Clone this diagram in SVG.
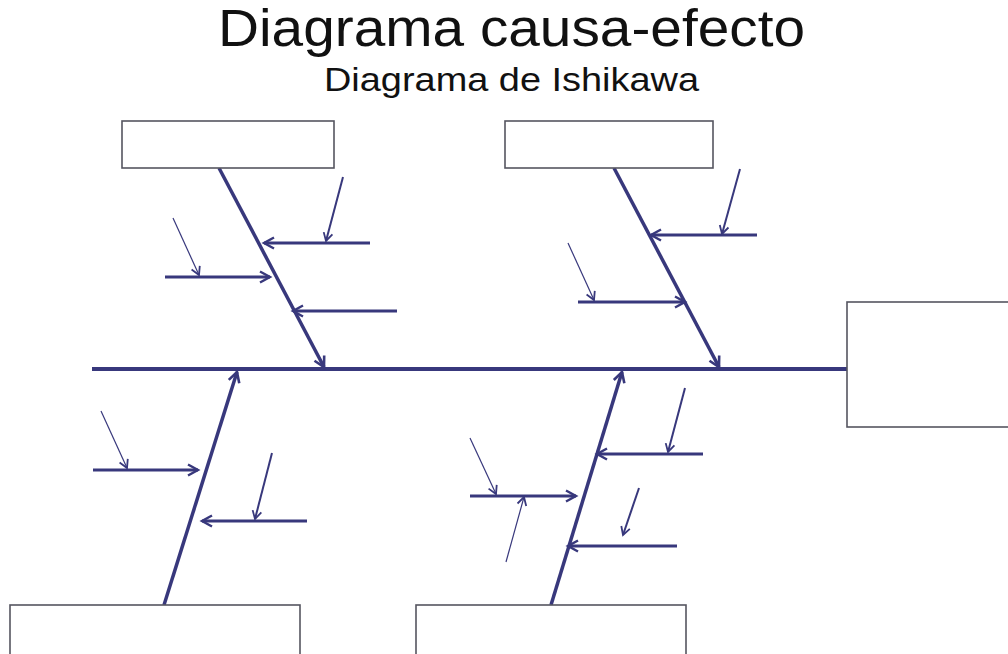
<svg xmlns="http://www.w3.org/2000/svg" width="1008" height="654" viewBox="0 0 1008 654">
<style>
.box{fill:#ffffff;stroke:#555560;stroke-width:1.6}
.ln{stroke:#38387c;fill:none;stroke-linecap:butt}
.spine{stroke-width:4}
.bone{stroke-width:3.5;marker-end:url(#ah)}
.sub{stroke-width:3;marker-end:url(#am)}
.med{stroke-width:2;marker-end:url(#as)}
.thin{stroke-width:1.2;marker-end:url(#as)}
.t{font-family:"Liberation Sans",Arial,sans-serif;fill:#111}
</style>
<defs>
<marker id="ah" viewBox="0 0 14 14" refX="12" refY="7" markerWidth="14" markerHeight="14" markerUnits="userSpaceOnUse" orient="auto" overflow="visible">
<path d="M2,1.5 L12,7 L2,12.5" fill="none" stroke="#38387c" stroke-width="2.6"/>
</marker>
<marker id="am" viewBox="0 0 14 14" refX="12" refY="7" markerWidth="14" markerHeight="14" markerUnits="userSpaceOnUse" orient="auto" overflow="visible">
<path d="M2,1.5 L12,7 L2,12.5" fill="none" stroke="#38387c" stroke-width="2.4"/>
</marker>
<marker id="as" viewBox="0 0 12 12" refX="10" refY="6" markerWidth="12" markerHeight="12" markerUnits="userSpaceOnUse" orient="auto" overflow="visible">
<path d="M2,1.5 L10,6 L2,10.5" fill="none" stroke="#38387c" stroke-width="1.8"/>
</marker>
</defs>
<rect width="1008" height="654" fill="#ffffff"/>
<g id="title">
<text class="t" x="218" y="46" font-size="51" textLength="587" lengthAdjust="spacingAndGlyphs">Diagrama causa-efecto</text>
<text class="t" x="324" y="91" font-size="34" textLength="375" lengthAdjust="spacingAndGlyphs">Diagrama de Ishikawa</text>
</g>
<g id="connectors">
<line class="ln spine" x1="92" y1="369" x2="847" y2="369"/>
<line class="ln bone" x1="219" y1="168" x2="324" y2="367"/>
<line class="ln bone" x1="614" y1="168" x2="719" y2="367"/>
<line class="ln bone" x1="164" y1="605" x2="237" y2="372"/>
<line class="ln bone" x1="551" y1="605" x2="622" y2="372"/>
<line class="ln sub" x1="370" y1="243" x2="264" y2="243"/>
<line class="ln sub" x1="165" y1="277" x2="270" y2="277"/>
<line class="ln sub" x1="397" y1="311" x2="293" y2="311"/>
<line class="ln sub" x1="757" y1="235" x2="651" y2="235"/>
<line class="ln sub" x1="578" y1="302" x2="685" y2="302"/>
<line class="ln sub" x1="93" y1="470" x2="198" y2="470"/>
<line class="ln sub" x1="307" y1="521" x2="202" y2="521"/>
<line class="ln sub" x1="703" y1="454" x2="597" y2="454"/>
<line class="ln sub" x1="470" y1="496" x2="576" y2="496"/>
<line class="ln sub" x1="677" y1="546" x2="568" y2="546"/>
<line class="ln med" x1="343" y1="177" x2="326" y2="241"/>
<line class="ln med" x1="740" y1="169" x2="722" y2="234"/>
<line class="ln med" x1="272" y1="453" x2="255" y2="519"/>
<line class="ln med" x1="685" y1="388" x2="668" y2="452"/>
<line class="ln med" x1="639" y1="488" x2="623" y2="535"/>
<line class="ln thin" x1="173" y1="218" x2="199" y2="275"/>
<line class="ln thin" x1="568" y1="243" x2="594" y2="300"/>
<line class="ln thin" x1="101" y1="411" x2="127" y2="468"/>
<line class="ln thin" x1="470" y1="438" x2="496" y2="494"/>
<line class="ln thin" x1="506" y1="562" x2="524" y2="497"/>
</g>
<g id="box-top-left"><rect class="box" x="122" y="121" width="212" height="47"/></g>
<g id="box-top-right"><rect class="box" x="505" y="121" width="208" height="47"/></g>
<g id="box-effect"><rect class="box" x="847" y="302" width="170" height="125"/></g>
<g id="box-bottom-left"><rect class="box" x="10" y="605" width="290" height="60"/></g>
<g id="box-bottom-middle"><rect class="box" x="416" y="605" width="270" height="60"/></g>
</svg>
